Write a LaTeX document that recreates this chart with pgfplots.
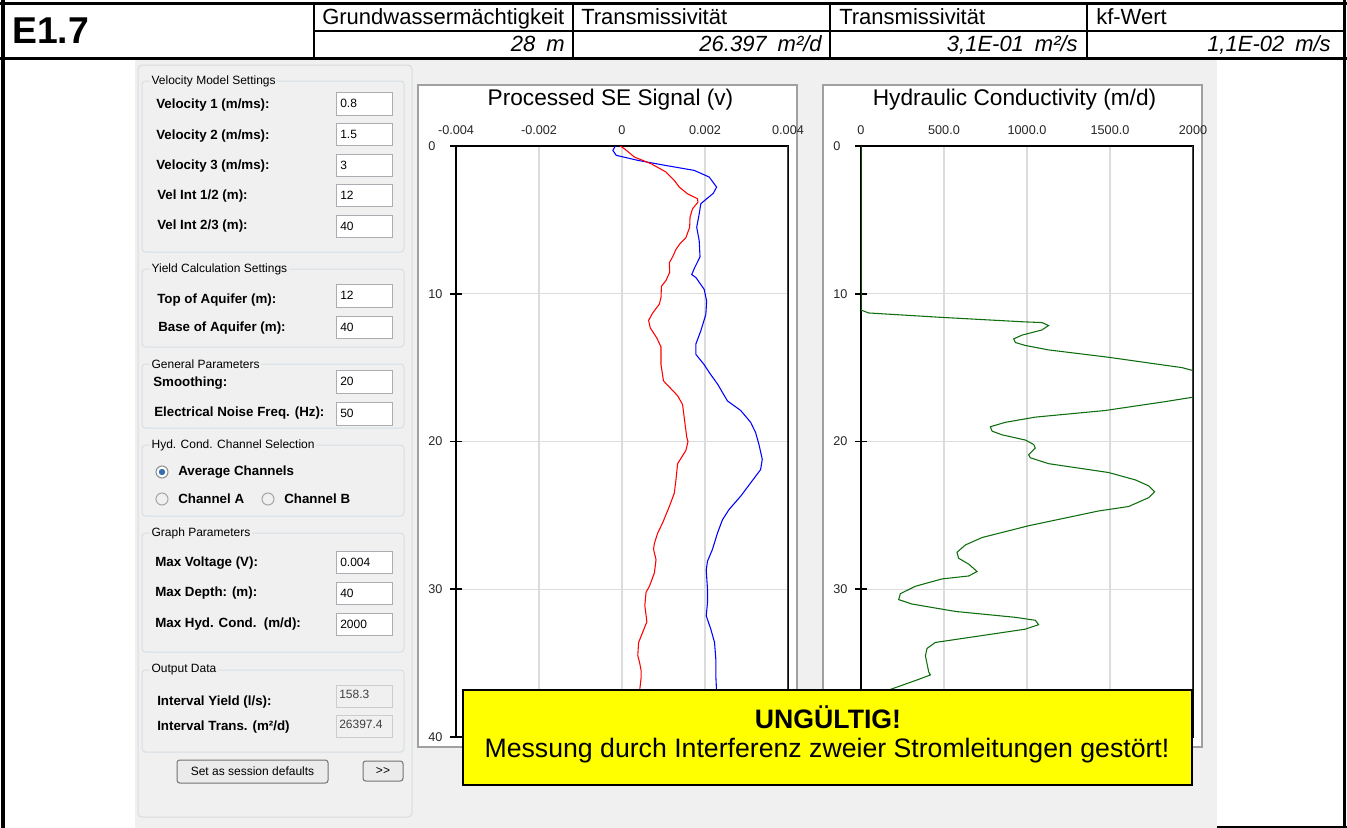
\documentclass[border=0pt]{standalone}
\usepackage{pgfplots}
\pgfplotsset{compat=1.18}
\usepackage{fontspec}
\setmainfont{Liberation Sans}
\definecolor{panel}{HTML}{F0F0F0}
\definecolor{grp}{HTML}{D5DFE5}
\definecolor{tbx}{HTML}{ABADB3}
\definecolor{gridc}{HTML}{DCDCDC}
\definecolor{frm}{HTML}{A0A0A0}
\definecolor{redc}{HTML}{FF0000}
\definecolor{bluec}{HTML}{0000FF}
\definecolor{greenc}{HTML}{0E6E0E}
\definecolor{ylw}{HTML}{FFFF00}
\definecolor{dotc}{HTML}{3A6CB0}
\newcommand\lfont{\fontsize{10}{12}\selectfont\bfseries}
\newcommand\vfont{\fontsize{9}{11}\selectfont}
\newcommand\gfont{\fontsize{9}{11}\selectfont}
\newcommand\tfont{\fontsize{9.5}{11}\selectfont}
\newcommand\hfont{\fontsize{16.5}{18}\selectfont}
\newcommand\lab[3]{\node[anchor=west,inner sep=0pt,font=\lfont] at (#1,#2) {#3};}
\newcommand\tb[3]{\draw[tbx,fill=white,line width=0.75pt] (336,#1) rectangle (392,#2);
  \node[anchor=west,inner sep=0pt,font=\vfont] at (340,{(#1+#2)/2}) {#3};}
\newcommand\rb[3]{\draw[draw=black!20,fill=panel,line width=0.75pt] (336,#1) rectangle (392,#2);
  \node[anchor=west,inner sep=0pt,font=\vfont,text=black!75] at (339,{(#1+#2)/2-1.5}) {#3};}
\newcommand\gb[3]{\draw[grp,rounded corners=2.5pt,line width=0.75pt] (142,#1) rectangle (404,#2);
  \node[anchor=west,fill=panel,inner xsep=1pt,inner ysep=0pt,font=\gfont] at (150,#1) {#3};}
\begin{document}
\begin{tikzpicture}[x=0.75pt,y=-0.75pt]
\useasboundingbox (0,0) rectangle (1347,828);
\fill[white] (0,0) rectangle (1347,828);
\fill[panel] (135,59) rectangle (1217,828);
% ---------- header ----------
\draw[line width=1.2pt] (314,3) -- (314,58);
\draw[line width=1.2pt] (314,31) -- (1343,31);
\foreach \xx in {573,830,1087} \draw[line width=1.2pt] (\xx,3) -- (\xx,58);
\draw[line width=2.25pt] (0,3.3) -- (1347,3.3);
\draw[line width=2.25pt] (0,58.5) -- (1347,58.5);
\draw[line width=3pt] (3,0) -- (3,828);
\draw[line width=2.25pt] (1344.5,0) -- (1344.5,828);
\draw[line width=2.25pt] (1217,827) -- (1347,827);
\node[anchor=base west,inner sep=0pt,font=\fontsize{28}{30}\selectfont\bfseries] at (12,43) {E1.7};
\node[anchor=base west,inner sep=0pt,font=\hfont] at (322,24) {Grundwassermächtigkeit};
\node[anchor=base west,inner sep=0pt,font=\hfont] at (581,24) {Transmissivität};
\node[anchor=base west,inner sep=0pt,font=\hfont] at (839,24) {Transmissivität};
\node[anchor=base west,inner sep=0pt,font=\hfont] at (1096,24) {kf-Wert};
\node[anchor=base east,inner sep=0pt,font=\hfont\itshape] at (565,51) {28\hspace{0.5em}m};
\node[anchor=base east,inner sep=0pt,font=\hfont\itshape] at (822,51) {26.397\hspace{0.5em}m²/d};
\node[anchor=base east,inner sep=0pt,font=\hfont\itshape] at (1078,51) {3,1E-01\hspace{0.5em}m²/s};
\node[anchor=base east,inner sep=0pt,font=\hfont\itshape] at (1331,51) {1,1E-02\hspace{0.5em}m/s};
% ---------- settings panel ----------
\draw[draw=black!14,rounded corners=3pt,line width=0.75pt] (138,65) rectangle (412,817);
\gb{81}{252}{Velocity Model Settings}
\lab{156}{105}{Velocity 1 (m/ms):}\tb{92}{115}{0.8}
\lab{156}{136}{Velocity 2 (m/ms):}\tb{123}{145}{1.5}
\lab{156}{166}{Velocity 3 (m/ms):}\tb{154}{176}{3}
\lab{157}{196}{Vel Int 1/2 (m):}\tb{184}{206}{12}
\lab{157}{226}{Vel Int 2/3 (m):}\tb{215}{237}{40}
\gb{269}{347}{Yield Calculation Settings}
\lab{157}{300}{Top of Aquifer (m):}\tb{284}{307}{12}
\lab{158}{328}{Base of Aquifer (m):}\tb{316}{338}{40}
\gb{364}{428}{General Parameters}
\lab{153}{383}{Smoothing:}\tb{370}{393}{20}
\lab{154}{413}{Electrical Noise Freq. (Hz):}\tb{402}{425}{50}
\gb{445}{516}{Hyd. Cond. Channel Selection}
\draw[draw=black!45,fill=white,line width=0.75pt] (162,472) circle[radius=6];
\fill[dotc] (162,472) circle[radius=3.2];
\lab{178}{472}{Average Channels}
\draw[draw=black!35,fill=black!6,line width=0.75pt] (162,499) circle[radius=6];
\lab{178}{499}{Channel A}
\draw[draw=black!35,fill=black!6,line width=0.75pt] (268,499) circle[radius=6];
\lab{284}{499}{Channel B}
\gb{533}{652}{Graph Parameters}
\lab{155}{563}{Max Voltage (V):}\tb{551}{573}{0.004}
\lab{155}{593}{Max Depth: (m):}\tb{582}{604}{40}
\lab{155}{624}{Max Hyd. Cond.\ \ (m/d):}\tb{613}{635}{2000}
\gb{670}{752}{Output Data}
\lab{157}{702}{Interval Yield (l/s):}\rb{685}{707}{158.3}
\lab{157}{727}{Interval Trans. (m²/d)}\rb{715}{737}{26397.4}
\draw[draw=black!55,rounded corners=2pt,fill=black!8,line width=0.75pt] (177,760) rectangle (328,783);
\node[font=\vfont] at (252.5,771.5) {Set as session defaults};
\draw[draw=black!55,rounded corners=2pt,fill=black!8,line width=0.75pt] (363,761) rectangle (403,781);
\node[font=\vfont] at (383,771) {>{}>};
% ---------- plot frames ----------
\draw[frm,fill=white,line width=0.9pt] (418,85) rectangle (797,747);
\draw[frm,fill=white,line width=0.9pt] (823,85) rectangle (1202,747);
\node[font=\fontsize{17}{20}\selectfont] at (610.5,100) {Processed SE Signal (v)};
\node[font=\fontsize{17}{20}\selectfont] at (1014.5,100) {Hydraulic Conductivity (m/d)};
\pgfplotsset{
 logstyle/.style={
  scale only axis, width=249pt, height=443.25pt,
  ymin=0, ymax=40, y dir=reverse,
  ytick={0,10,20,30,40}, yticklabels={0,10,20,30,40},
  scaled x ticks=false, scaled y ticks=false,
  grid=major, grid style={gridc,line width=0.9pt},
  axis line style={black,line width=1.2pt},
  tick align=center, major tick length=9pt,
  major x tick style={draw=none},
  major y tick style={black,line width=1.2pt},
  ytick pos=left,
  xticklabel pos=upper,
  tick label style={font=\tfont, text=black!85},
  xticklabel style={anchor=south,inner sep=0pt,yshift=3.5pt},
  yticklabel style={anchor=west,inner sep=0pt,xshift=-16.5pt},
 }}
\begin{axis}[logstyle, at={(466.5pt,-331.125pt)}, anchor=center,
  xmin=-0.004, xmax=0.004,
  xtick={-0.004,-0.002,0,0.002,0.004},
  xticklabels={-0.004,-0.002,0,0.002,0.004}]
\addplot[bluec, line width=0.8pt] coordinates {
(-0.00016,0) (-0.00022,0.3) (-0.00014,0.63) (0.00038,0.97) (0.00102,1.3) (0.00174,1.65)
(0.0021,2.1) (0.00228,2.78) (0.0022,3.2) (0.0019,3.9) (0.00186,4.6) (0.0018,5.5)
(0.00186,6.4) (0.00188,7.5) (0.00174,8.3) (0.00168,8.7) (0.00178,8.9) (0.00198,9.7)
(0.00204,10.5) (0.00202,11.4) (0.0019,12.5) (0.00178,13.4) (0.00178,14.1) (0.00198,14.8)
(0.00212,15.4) (0.0023,16.1) (0.00254,17.25) (0.00286,17.9) (0.0031,18.7) (0.00322,19.4)
(0.0033,20.2) (0.00338,21.2) (0.00334,21.9) (0.0031,22.8) (0.00286,23.7) (0.00258,24.6)
(0.00242,25.3) (0.0023,26.2) (0.00218,27.3) (0.00206,28.1) (0.00203,28.7) (0.00206,30)
(0.00206,30.9) (0.00203,31.8) (0.00214,32.7) (0.00223,33.6) (0.00226,34.7) (0.00226,35.8)
(0.00228,37.0)};
\addplot[redc, line width=0.8pt] coordinates {
(-0.00004,0) (0.000056,0.18) (0.0003,0.75) (0.0007,1.2) (0.00106,1.76) (0.00126,2.33)
(0.00138,2.78) (0.00158,3.24) (0.00182,3.57) (0.00183,3.8) (0.0017,4.25) (0.00164,4.8)
(0.00163,5.5) (0.00154,6.2) (0.0014,6.6) (0.0013,7.0) (0.00122,7.5) (0.00114,7.9)
(0.00115,8.55) (0.00106,9.1) (0.00095,9.5) (0.00094,10.25) (0.0009,10.7) (0.00074,11.3)
(0.00064,11.8) (0.00068,12.3) (0.00084,13.0) (0.00094,13.6) (0.00094,14.8) (0.001,15.9)
(0.00134,16.9) (0.00146,17.5) (0.0015,18.4) (0.00156,19.7) (0.00159,20.0) (0.00154,20.6)
(0.00134,21.5) (0.0013,22.6) (0.00126,23.5) (0.00114,24.4) (0.00098,25.5) (0.00086,26.2)
(0.00078,26.9) (0.00076,27.3) (0.00082,28.0) (0.00078,28.9) (0.00066,29.8) (0.00058,30.2)
(0.00055,31.1) (0.0006,32.2) (0.0005,32.9) (0.0004,33.6) (0.00038,34.5) (0.00042,34.9)
(0.00046,35.5) (0.00046,36.0) (0.00042,37.0)};
\draw[color=black!75,line width=1.2pt] (rel axis cs:1,0) -- (rel axis cs:1,1);
\end{axis}
\begin{axis}[logstyle, at={(770.25pt,-331.125pt)}, anchor=center,
  xmin=0, xmax=2000,
  xtick={0,500,1000,1500,2000},
  xticklabels={0,500.0,1000.0,1500.0,2000}]
\addplot[greenc, line width=0.8pt] coordinates {
(0,0) (0,11.1) (46,11.3) (488,11.6) (980,11.9) (1090,11.95) (1130,12.15) (1090,12.45)
(970,12.8) (920,13.05) (930,13.3) (990,13.5) (1130,13.8) (1492,14.3) (1934,15.0) (2000,15.2)
(2000,17.0) (1833,17.3) (1472,17.9) (1050,18.35) (870,18.7) (779,19.0) (790,19.3) (850,19.55)
(990,19.9) (1040,20.2) (1050,20.45) (1010,20.9) (1020,21.1) (1130,21.5) (1492,22.1) (1653,22.6)
(1733,23.0) (1769,23.4) (1733,23.8) (1612,24.4) (1432,24.7) (1010,25.7) (729,26.5) (629,27.0)
(578,27.5) (588,27.9) (649,28.3) (699,28.8) (649,29.1) (488,29.3) (327,29.8) (237,30.3)
(227,30.7) (307,31.0) (568,31.5) (930,31.9) (1050,32.1) (1070,32.4) (990,32.7) (629,33.3)
(448,33.6) (398,34.0) (388,34.5) (408,35.6) (418,35.8) (347,36.1) (197,36.7) (100,37.1)};
\draw[color=black!75,line width=1.2pt] (rel axis cs:1,0) -- (rel axis cs:1,1);
\end{axis}
% ---------- warning box ----------
\draw[fill=ylw,line width=1.5pt] (463,690) rectangle (1192,785);
\node[font=\fontsize{20}{24}\selectfont\bfseries] at (828,717) {UNGÜLTIG!};
\node[font=\fontsize{20}{24}\selectfont] at (827,751) {Messung durch Interferenz zweier Stromleitungen gestört!};
\end{tikzpicture}
\end{document}
